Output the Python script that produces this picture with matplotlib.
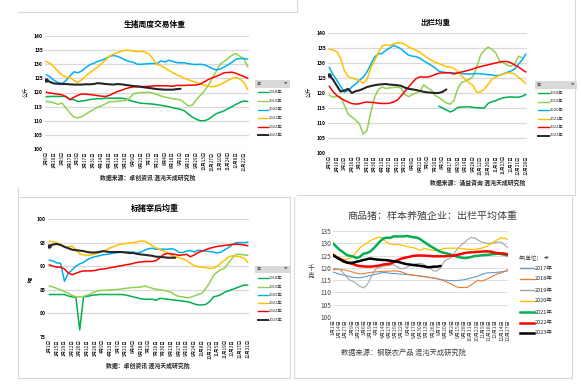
import numpy as np
import matplotlib
matplotlib.use('Agg')
import matplotlib.pyplot as plt
from matplotlib.lines import Line2D
from matplotlib.patches import Rectangle

plt.rcParams['font.family'] = ['Noto Sans CJK SC', 'DejaVu Sans']
plt.rcParams['axes.unicode_minus'] = False

# ── Données : panneau 1 (生猪周度交易体重) ─────────────────────────────────────
p1_years = ['2018年', '2019年', '2020年', '2021年', '2022年', '2023年']
p1_2018 = [118.5, 118.6, 118.6, 118.6, 118.6, 118.6, 117.5, 117.5, 116.8, 117.0, 117.2, 117.5, 117.7,
           117.8, 117.8, 118.0, 118.0, 118.0, 118.0, 118.0, 117.8, 117.3, 116.8, 116.5, 116.2, 116.1,
           116.0, 115.9, 115.7, 115.5, 115.2, 115.0, 114.6, 114.3, 114.0, 113.5, 112.3, 111.3, 110.5,
           110.0, 110.0, 110.5, 111.5, 112.5, 113.0, 113.5, 114.3, 115.0, 115.8, 116.5, 117.0, 116.8]
p1_2019 = [116.8, 116.7, 116.3, 115.8, 116.3, 114.5, 112.8, 111.3, 111.0, 111.5, 112.3, 113.2, 114.0,
           114.8, 115.3, 116.0, 116.7, 116.8, 116.9, 117.0, 117.2, 117.8, 119.5, 119.8, 120.0, 120.0,
           120.1, 119.8, 119.3, 118.8, 118.4, 118.1, 117.8, 117.6, 117.4, 116.3, 115.2, 115.6, 117.5,
           119.0, 120.5, 122.5, 125.0, 127.5, 130.0, 131.0, 132.0, 133.2, 133.8, 132.8, 132.0, 129.0]
p1_2020 = [126.3, 125.5, 124.3, 123.5, 123.2, 124.2, 125.8, 127.3, 127.0, 127.6, 128.8, 129.8, 130.3,
           131.0, 131.4, 132.0, 132.8, 133.1, 132.8, 132.2, 131.5, 131.0, 130.7, 130.0, 130.0, 130.1,
           130.2, 130.3, 130.2, 131.2, 130.8, 131.4, 131.0, 130.6, 130.5, 130.5, 130.2, 130.0, 129.9,
           130.0, 129.8, 129.2, 128.5, 128.0, 128.3, 129.0, 129.8, 130.7, 131.8, 132.0, 132.0, 131.8]
p1_2021 = [131.0, 130.3, 129.0, 127.5, 126.2, 125.5, 125.4, 124.3, 123.6, 124.5, 125.8, 127.0, 128.0,
           129.0, 130.2, 131.5, 132.8, 133.6, 134.1, 134.6, 135.0, 134.9, 134.6, 134.5, 134.6, 134.3,
           133.6, 132.0, 130.0, 129.5, 128.7, 127.8, 127.0, 126.3, 125.7, 125.0, 124.5, 124.0, 123.5,
           123.0, 122.6, 122.3, 122.0, 122.3, 122.8, 123.5, 124.3, 125.0, 125.3, 124.8, 123.5, 121.0]
p1_2022 = [120.1, 119.8, 119.6, 119.4, 119.2, 118.5, 117.5, 118.3, 119.0, 119.5, 119.4, 119.3, 119.1,
           118.9, 118.7, 118.6, 119.0, 119.7, 120.3, 120.8, 121.3, 121.7, 122.0, 122.0, 122.1, 122.1,
           122.2, 122.3, 122.4, 122.4, 122.4, 122.3, 122.2, 122.5, 122.5, 122.5, 122.6, 122.6, 122.7,
           123.0, 123.8, 124.6, 125.2, 125.7, 126.3, 127.0, 127.1, 127.2, 126.8, 126.2, 125.7, 125.0]
p1_2023 = [124.4, 123.7, 123.2, 123.1, 123.0, 123.0, 122.9, 122.8, 122.8, 122.8, 122.9, 122.9, 123.0,
           123.3, 123.2, 123.0, 122.9, 122.8, 123.0, 122.9, 122.7, 122.5, 122.3, 122.2, 122.0, 121.8,
           121.6, 121.4, 121.2, 121.1, 121.0, 121.0, 121.0, 121.2, 121.3]
p1_ticks = ['1月6日', '1月20日', '2月3日', '2月17日', '3月3日', '3月17日', '3月31日', '4月14日',
            '4月28日', '5月12日', '5月26日', '6月9日', '6月23日', '7月7日', '7月21日', '8月4日',
            '8月18日', '9月1日', '9月15日', '9月29日', '10月13日', '10月27日', '11月10日',
            '11月24日', '12月8日', '12月22日']

# ── Données : panneau 2 (出栏均重) ─────────────────────────────────────────────
p2_years = ['2018年', '2019年', '2020年', '2021年', '2022年', '2023年']
p2_2018 = [np.nan] * 29 + [115.6, 115.0, 114.3, 113.7, 114.2, 115.2, 115.3, 115.4, 115.4, 115.2,
                           115.1, 115.0, 115.0, 116.5, 117.1, 117.4, 118.0, 118.4, 118.6, 118.7,
                           118.6, 118.6, 118.9, 119.5]
p2_2019 = [119.3, 118.6, 118.9, 118.8, 116.0, 113.0, 112.0, 111.0, 109.7, 106.3, 107.5, 113.5, 118.5,
           121.2, 122.0, 121.5, 121.7, 121.8, 122.0, 121.6, 119.5, 118.8, 119.5, 120.0, 120.6, 122.7,
           121.7, 121.0, 119.2, 118.5, 117.6, 116.6, 116.3, 117.5, 121.5, 123.5, 124.0, 124.5, 125.5,
           128.5, 132.5, 134.2, 135.3, 134.6, 133.5, 130.8, 130.2, 129.3, 128.9, 129.5, 132.3, 131.8]
p2_2020 = [128.6, 126.2, 124.3, 122.3, 120.3, 120.8, 122.0, 123.0, 124.2, 125.3, 127.0, 129.5, 132.0,
           133.0, 133.2, 134.2, 135.0, 135.8, 135.4, 134.7, 133.6, 132.6, 132.3, 132.1, 131.6, 130.7,
           130.0, 129.2, 128.4, 127.3, 127.0, 126.8, 126.7, 126.7, 126.6, 126.5, 126.4, 126.3, 126.4,
           126.5, 126.4, 126.3, 126.1, 126.0, 125.8, 125.9, 126.4, 126.8, 127.3, 128.0, 129.5, 131.0,
           133.0]
p2_2021 = [134.6, 134.3, 133.8, 131.8, 127.5, 125.5, 125.0, 124.6, 124.1, 123.3, 124.5, 128.3, 130.8,
           133.5, 135.7, 136.0, 135.9, 136.3, 136.7, 136.7, 136.2, 135.4, 134.8, 134.2, 133.6, 132.6,
           131.7, 130.9, 130.3, 129.8, 129.3, 128.8, 128.6, 128.2, 127.2, 125.7, 124.5, 123.4, 122.5,
           120.3, 120.3, 121.3, 122.8, 124.5, 125.3, 125.8, 126.3, 126.7, 126.7, 126.4, 125.3, 124.2,
           123.2]
p2_2022 = [122.3, 120.5, 119.2, 118.3, 117.6, 117.0, 116.5, 116.3, 116.4, 116.8, 117.0, 116.9, 116.8,
           116.6, 116.5, 116.5, 116.6, 117.0, 117.6, 119.0, 120.5, 122.0, 123.5, 124.8, 125.4, 125.3,
           125.3, 125.6, 126.2, 126.6, 126.7, 126.7, 126.8, 126.3, 126.7, 127.0, 127.3, 127.6, 128.0,
           128.5, 128.8, 129.1, 129.4, 129.7, 130.0, 130.3, 130.5, 130.5, 130.1, 129.4, 128.7, 127.8,
           127.0]
p2_2023 = [126.0, 124.5, 122.5, 120.5, 120.8, 121.4, 120.0, 120.6, 120.9, 121.4, 122.0, 122.3, 122.6,
           122.8, 122.9, 123.0, 122.8, 122.7, 122.6, 122.4, 121.8, 121.4, 121.2, 121.0, 120.7, 120.4,
           120.2, 120.1, 120.0, 120.0, 120.4, 121.2]
p2_ticks = ['1月5日', '1月19日', '2月2日', '2月16日', '3月2日', '3月16日', '3月30日', '4月13日',
            '4月27日', '5月11日', '5月25日', '6月8日', '6月22日', '7月6日', '7月20日', '8月3日',
            '8月17日', '8月31日', '9月14日', '9月28日', '10月12日', '10月26日', '11月9日',
            '11月23日', '12月7日', '12月21日', '12月28日']

# ── Données : panneau 3 (标猪宰后均重) ─────────────────────────────────────────
p3_years = ['2018年', '2019年', '2020年', '2021年', '2022年', '2023年']
p3_2018 = [84.0, 84.0, 84.0, 84.0, 84.0, 83.7, 83.5, 83.4, 76.5, 83.5, 83.6, 83.8, 83.9, 84.0, 84.0,
           84.0, 84.0, 84.0, 84.0, 84.0, 83.9, 83.7, 83.5, 83.3, 83.1, 83.0, 83.0, 83.0, 82.8, 83.2,
           83.1, 83.0, 82.9, 82.8, 82.7, 82.6, 82.5, 82.3, 82.0, 81.8, 81.8, 81.9, 82.5, 83.5, 83.7,
           84.0, 84.5, 84.8, 85.1, 85.4, 85.7, 86.0, 86.0]
p3_2019 = [85.8, 85.6, 85.3, 85.0, 84.6, 84.3, 83.8, 83.5, 83.5, 83.6, 83.9, 84.2, 84.6, 84.8, 84.9,
           84.9, 85.0, 85.0, 85.1, 85.2, 85.3, 85.4, 85.5, 85.5, 85.6, 85.8, 85.6, 85.3, 85.1, 85.0,
           84.9, 84.7, 84.4, 83.9, 83.6, 83.5, 83.3, 83.4, 83.7, 84.0, 84.3, 85.3, 86.5, 88.0, 88.8,
           89.3, 89.6, 90.8, 91.8, 92.5, 92.5, 92.4, 92.3]
p3_2020 = [91.3, 91.1, 90.7, 90.6, 86.8, 88.5, 89.2, 90.0, 90.5, 90.8, 91.4, 91.8, 92.0, 92.2, 92.4,
           92.5, 92.6, 92.8, 92.9, 93.0, 93.0, 93.0, 93.0, 92.8, 93.0, 93.4, 93.7, 93.8, 93.6, 93.6,
           93.6, 93.6, 93.7, 93.5, 92.9, 92.9, 93.2, 93.3, 93.0, 93.4, 93.3, 93.2, 93.1, 93.0, 92.8,
           93.0, 93.5, 94.0, 94.6, 95.0, 95.0, 95.0, 95.1]
p3_2021 = [95.3, 95.2, 95.0, 94.6, 94.2, 94.0, 94.3, 93.5, 92.6, 92.4, 92.3, 92.4, 92.6, 92.8, 93.1,
           93.5, 93.9, 94.2, 94.5, 94.7, 94.8, 94.9, 95.0, 95.2, 95.3, 95.3, 94.9, 94.3, 93.9, 93.5,
           93.2, 92.8, 92.3, 92.0, 91.8, 91.6, 91.2, 90.6, 90.1, 89.9, 89.8, 89.7, 89.5, 89.6, 90.0,
           90.7, 91.3, 92.0, 92.2, 92.1, 92.0, 91.7, 90.8]
p3_2022 = [90.3, 90.0, 89.8, 89.8, 89.4, 88.6, 88.2, 88.5, 88.8, 89.0, 89.0, 89.0, 89.1, 89.3, 89.4,
           89.5, 89.7, 89.8, 90.0, 90.1, 90.3, 90.4, 90.6, 90.8, 90.9, 91.0, 91.0, 91.0, 91.2, 91.8,
           92.5, 92.7, 92.6, 92.5, 92.3, 92.4, 92.5, 92.0, 92.4, 92.9, 93.2, 93.5, 93.8, 94.0, 94.2,
           94.3, 94.4, 94.5, 94.6, 94.7, 94.6, 94.5, 94.3]
p3_2023 = [94.2, 94.6, 94.7, 94.5, 94.1, 93.8, 93.5, 93.4, 93.3, 93.2, 93.0, 92.9, 92.9, 93.0, 93.2,
           93.1, 93.0, 93.0, 93.0, 93.0, 92.9, 92.8, 92.8, 92.6, 92.5, 92.4, 92.3, 92.2, 92.0, 92.0,
           91.9, 91.8, 91.8, 91.8]
p3_ticks = ['1月1日', '1月15日', '1月29日', '2月12日', '2月26日', '3月12日', '3月26日', '4月9日',
            '4月23日', '5月7日', '5月21日', '6月4日', '6月18日', '7月2日', '7月16日', '7月30日',
            '8月13日', '8月27日', '9月10日', '9月24日', '10月8日', '10月22日', '11月5日',
            '11月19日', '12月3日', '12月17日', '12月31日']

# ── Données : panneau 4 (商品猪：样本养殖企业：出栏平均体重) ─────────────────────
p4_years = ['2017年', '2018年', '2019年', '2020年', '2021年', '2022年', '2023年']
p4_2017 = [118.2, 117.9, 117.4, 117.1, 116.8, 116.4, 116.1, 116.0, 116.0, 116.2, 116.6, 116.9, 117.2,
           117.5, 117.9, 118.1, 118.0, 117.8, 117.7, 117.6, 117.5, 117.4, 117.3, 117.1, 117.0, 116.9,
           116.7, 116.5, 116.3, 116.0, 115.8, 115.5, 115.3, 115.0, 114.9, 114.8, 114.8, 114.9, 115.0,
           115.2, 115.5, 115.9, 116.2, 116.6, 117.3, 117.7, 118.0, 118.0, 118.1, 118.2, 118.4, 118.6,
           118.8]
p4_2018 = [119.3, 119.3, 119.3, 119.2, 119.0, 118.6, 118.2, 117.8, 117.5, 117.6, 117.9, 118.1, 118.3,
           118.4, 118.5, 118.6, 118.6, 118.7, 118.8, 118.7, 118.5, 118.0, 117.5, 117.2, 117.0, 116.8,
           116.5, 116.4, 116.3, 116.1, 115.9, 115.6, 115.2, 114.7, 114.1, 113.5, 112.8, 112.1, 112.0,
           112.0, 112.1, 113.0, 114.0, 115.0, 114.6, 115.0, 115.6, 116.3, 117.0, 117.6, 118.0, 118.5,
           119.3]
p4_2019 = [119.8, 119.7, 119.4, 118.0, 116.3, 115.0, 114.5, 113.5, 112.5, 111.8, 112.8, 115.3, 118.0,
           120.0, 120.3, 120.6, 120.9, 121.1, 121.3, 120.5, 119.7, 119.7, 120.3, 121.0, 121.5, 121.7,
           121.8, 121.4, 120.5, 119.7, 118.7, 118.8, 120.0, 122.5, 123.5, 124.0, 125.8, 127.8, 129.2,
           130.3, 131.5, 132.4, 132.2, 131.4, 130.6, 130.2, 130.0, 130.0, 130.2, 130.5, 130.5, 129.3,
           128.3]
p4_2020 = [126.0, 124.8, 124.0, 123.5, 123.5, 123.8, 124.8, 126.5, 128.2, 129.2, 130.0, 131.0, 131.7,
           132.2, 132.5, 131.5, 130.3, 129.7, 129.5, 129.5, 129.4, 129.0, 128.7, 128.4, 128.2, 127.6,
           127.1, 128.0, 127.6, 127.3, 127.1, 127.1, 127.4, 127.9, 128.0, 128.0, 128.0, 128.0, 127.9,
           127.7, 127.6, 127.5, 127.5, 127.7, 128.0, 128.4, 129.0, 129.9, 130.8, 131.6, 132.3, 132.0,
           131.6]
p4_2021 = [130.0, 128.6, 127.3, 126.4, 125.3, 124.9, 124.6, 124.0, 124.5, 125.7, 126.0, 126.6, 127.8,
           129.3, 130.8, 132.0, 132.3, 132.2, 132.8, 132.8, 132.8, 132.8, 133.0, 132.7, 132.4, 132.3,
           131.6, 130.6, 129.7, 128.8, 128.0, 127.2, 126.5, 126.1, 125.8, 125.4, 124.9, 124.5, 124.2,
           124.0, 124.1, 124.4, 124.8, 124.9, 125.1, 125.2, 125.3, 125.5, 125.6, 125.8, 125.6, 125.3,
           125.0]
p4_2022 = [125.0, 124.4, 123.7, 123.0, 122.3, 121.9, 121.5, 121.0, 120.7, 120.6, 120.5, 120.5, 120.6,
           120.8, 121.0, 121.4, 121.5, 121.7, 122.3, 123.0, 123.6, 124.0, 124.3, 124.6, 124.9, 125.0,
           125.0, 125.0, 124.9, 124.8, 124.7, 124.7, 124.7, 124.7, 124.8, 124.9, 125.0, 125.3, 125.6,
           126.0, 126.2, 126.3, 126.4, 126.5, 126.6, 126.7, 126.7, 126.6, 126.2, 126.0, 125.9, 125.8,
           125.5]
p4_2023 = [125.2, 124.3, 123.5, 122.7, 122.2, 122.0, 122.1, 122.5, 122.8, 123.2, 123.5, 123.8, 123.6,
           123.4, 123.3, 123.2, 123.1, 122.9, 122.7, 122.5, 122.2, 121.8, 121.5, 121.3, 121.1, 121.0,
           120.8, 120.6, 120.3, 120.3, 120.5, 120.5, 120.8]
p4_ticks = ['1月1日', '1月14日', '1月27日', '2月9日', '2月22日', '3月6日', '3月19日', '4月1日',
            '4月14日', '4月27日', '5月10日', '5月22日', '6月4日', '6月17日', '6月30日', '7月13日',
            '7月26日', '8月7日', '8月20日', '9月2日', '9月15日', '9月28日', '10月11日', '10月23日',
            '11月5日', '11月18日', '12月1日', '12月14日', '12月27日']

# ── Styles ────────────────────────────────────────────────────────────────────
col6 = ['#00B050', '#92D050', '#00B0F0', '#FFC000', '#FF0000', '#262626']
col7 = ['#5B9BD5', '#ED7D31', '#A5A5A5', '#FFC000', '#00B050', '#FF0000', '#000000']
lw7 = [0.8, 0.8, 0.8, 0.9, 1.8, 1.8, 1.8]
GRID = '#D9D9D9'

W, H = 581, 388
fig = plt.figure(figsize=(W / 100, H / 100), dpi=100)


def fx(px):
    return px / W


def fy(py):
    return 1 - py / H


def make_ax(x0, y0, x1, y1):
    ax = fig.add_axes([fx(x0), fy(y1), fx(x1) - fx(x0), fy(y0) - fy(y1)])
    for s in ax.spines.values():
        s.set_visible(False)
    ax.grid(True, axis='y', color=GRID, lw=0.9)
    ax.set_axisbelow(True)
    ax.tick_params(length=0, pad=1.5)
    return ax


def draw_series(ax, series, colors, widths, n, dot=True):
    for vals, c, w in zip(series, colors, widths):
        x = np.arange(len(vals))
        ax.plot(x, vals, color=c, lw=w, solid_capstyle='round')
    if dot:
        ax.plot(0, series[-1][0], 'o', color=colors[-1], ms=2.2)
    ax.set_xlim(-0.3, n - 0.7)


def legend(x0, x1, y_head, ys, labels, colors, widths, head, fs, line_w, fill=True):
    if fill:
        fig.add_artist(Rectangle((fx(x0), fy(y_head + 3.5)), fx(x1) - fx(x0), 7 / H,
                                 transform=fig.transFigure, facecolor='#D9D9D9', edgecolor='none'))
    fig.text(fx(x0 + 2), fy(y_head), head, fontsize=fs, va='center', ha='left', color='#404040')
    fig.text(fx(x1 - 2), fy(y_head), '▾▼', fontsize=fs * 0.8, va='center', ha='right',
             color='#595959', family=['DejaVu Sans'])
    for y, lab, c, w in zip(ys, labels, colors, widths):
        fig.add_artist(Line2D([fx(x0 + 3), fx(x0 + 3 + line_w)], [fy(y), fy(y)], color=c, lw=w,
                              transform=fig.transFigure))
        fig.text(fx(x0 + 4 + line_w), fy(y), lab, fontsize=fs, va='center', ha='left', color='#262626')


# ── Cadres ────────────────────────────────────────────────────────────────────
frame_kw = dict(transform=fig.transFigure, color=GRID, lw=0.8)
fig.add_artist(Line2D([fx(18), fx(290)], [fy(12), fy(12)], **frame_kw))
fig.add_artist(Line2D([fx(18), fx(18)], [fy(188), fy(378)], **frame_kw))
fig.add_artist(Line2D([fx(18), fx(290)], [fy(378), fy(378)], **frame_kw))
fig.add_artist(Line2D([fx(290), fx(290)], [fy(197), fy(378)], **frame_kw))
fig.add_artist(Line2D([fx(18), fx(290)], [fy(197), fy(197)], **frame_kw))
fig.add_artist(Line2D([fx(297), fx(297)], [fy(0), fy(12)], **frame_kw))
fig.add_artist(Line2D([fx(290), fx(297)], [fy(12), fy(12)], **frame_kw))
fig.add_artist(Line2D([fx(575), fx(575)], [fy(0), fy(195)], **frame_kw))
fig.add_artist(Line2D([fx(297), fx(575)], [fy(195), fy(195)], **frame_kw))
fig.add_artist(Line2D([fx(294), fx(294)], [fy(197), fy(378)], **frame_kw))
fig.add_artist(Line2D([fx(572), fx(572)], [fy(197), fy(378)], **frame_kw))
fig.add_artist(Line2D([fx(294), fx(572)], [fy(378), fy(378)], **frame_kw))

# ── Panneau 1 ─────────────────────────────────────────────────────────────────
ax1 = make_ax(45, 36, 249, 149)
draw_series(ax1, [p1_2018, p1_2019, p1_2020, p1_2021, p1_2022, p1_2023], col6,
            [1.1] * 5 + [1.5], len(p1_2018))
ax1.set_ylim(100, 140)
ax1.set_yticks(range(100, 141, 5))
ax1.set_xticks(np.arange(0, len(p1_2018), 2))
ax1.set_xticklabels(p1_ticks, rotation=90, fontsize=3.3)
ax1.tick_params(axis='y', labelsize=3.6)
for t in ax1.get_yticklabels():
    t.set_fontweight('bold')
fig.text(fx(155), fy(24), '生猪周度交易体重', fontsize=5.6, ha='center', va='center', weight='bold')
fig.text(fx(27), fy(92), '公斤', fontsize=3.8, rotation=90, ha='center', va='center')
fig.text(fx(148), fy(178), '数据来源：卓创资讯 混沌天成研究院', fontsize=4.2, ha='center', va='center',
         weight='bold', color='#262626')
legend(255, 290, 84, [92, 101, 109.5, 118, 126.5, 135], p1_years, col6, [1.0] * 5 + [1.4],
       '年', 3.0, 10)

# ── Panneau 2 ─────────────────────────────────────────────────────────────────
ax2 = make_ax(328, 33, 527, 153)
draw_series(ax2, [p2_2018, p2_2019, p2_2020, p2_2021, p2_2022, p2_2023], col6,
            [1.1] * 5 + [1.5], len(p2_2020))
ax2.set_ylim(100, 140)
ax2.set_yticks(range(100, 141, 5))
ax2.set_xticks(np.arange(0, len(p2_2020), 2))
ax2.set_xticklabels(p2_ticks, rotation=90, fontsize=3.3)
ax2.tick_params(axis='y', labelsize=3.6)
for t in ax2.get_yticklabels():
    t.set_fontweight('bold')
fig.text(fx(435), fy(22), '出栏均重', fontsize=5.4, ha='center', va='center', weight='bold')
fig.text(fx(310), fy(92), '公斤', fontsize=3.8, rotation=90, ha='center', va='center')
fig.text(fx(478), fy(183), '数据来源：涌益咨询 混沌天成研究院', fontsize=4.2, ha='center', va='center',
         weight='bold', color='#262626')
legend(535, 577, 85, [93, 101.5, 110, 118.5, 127, 135.5], p2_years, col6, [1.0] * 5 + [1.4],
       '年', 3.0, 11)

# ── Panneau 3 ─────────────────────────────────────────────────────────────────
ax3 = make_ax(48, 219, 249, 337)
draw_series(ax3, [p3_2018, p3_2019, p3_2020, p3_2021, p3_2022, p3_2023], col6,
            [1.1] * 5 + [1.5], len(p3_2018))
ax3.set_ylim(75, 100)
ax3.set_yticks(range(75, 101, 5))
ax3.set_xticks(np.arange(0, len(p3_2018), 2))
ax3.set_xticklabels(p3_ticks, rotation=90, fontsize=3.3)
ax3.tick_params(axis='y', labelsize=3.6)
for t in ax3.get_yticklabels():
    t.set_fontweight('bold')
fig.text(fx(155), fy(208), '标猪宰后均重', fontsize=5.8, ha='center', va='center', weight='bold')
fig.text(fx(30), fy(279), 'kg', fontsize=3.8, rotation=90, ha='center', va='center', weight='bold')
fig.text(fx(148), fy(366), '数据：卓创资讯 混沌天成研究院', fontsize=4.2, ha='center', va='center',
         weight='bold', color='#262626')
legend(255, 290, 269, [278, 286.5, 294.5, 303, 311, 320], p3_years, col6, [1.0] * 5 + [1.4],
       '年', 3.0, 10)

# ── Panneau 4 ─────────────────────────────────────────────────────────────────
ax4 = make_ax(333, 231, 508, 317)
ax4.grid(True, axis='y', color=GRID, lw=0.6)
draw_series(ax4, [p4_2017, p4_2018, p4_2019, p4_2020, p4_2021, p4_2022, p4_2023], col7, lw7,
            len(p4_2017), dot=False)
ax4.set_xlim(0, len(p4_2017) - 1)
ax4.set_ylim(100, 135)
ax4.set_yticks(range(100, 136, 5))
ax4.set_xticks(np.linspace(0, len(p4_2017) - 1, len(p4_ticks)))
ax4.set_xticklabels(p4_ticks, rotation=90, fontsize=3.7, color='#404040')
ax4.tick_params(axis='y', labelsize=4.6, colors='#404040')
fig.text(fx(432), fy(216), '商品猪：样本养殖企业：出栏平均体重', fontsize=7.2, ha='center', va='center',
         color='#404040')
fig.text(fx(311), fy(272), '千\n克', fontsize=4.8, ha='center', va='center', linespacing=1.0,
         color='#404040')
fig.text(fx(403), fy(353), '数据来源：钢联农产品 混沌天成研究院', fontsize=5.2, ha='center', va='center',
         color='#404040')
legend(517, 552, 258, [268, 279, 290, 301, 312, 322.5, 333], p4_years, col7,
       [1.0, 1.0, 1.0, 1.0, 1.8, 1.8, 1.8], '年(单位)', 4.0, 14, fill=False)

fig.savefig('out.png', dpi=100)
